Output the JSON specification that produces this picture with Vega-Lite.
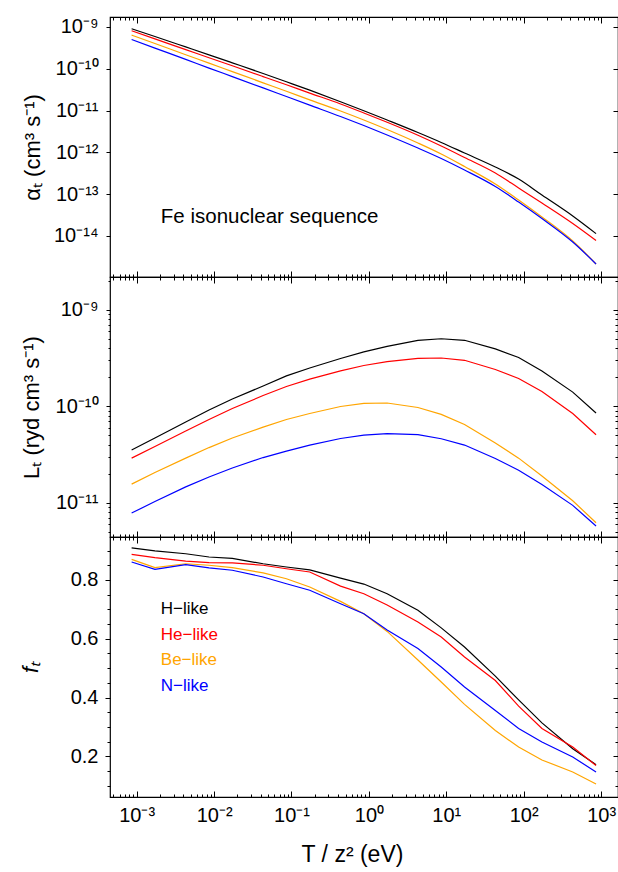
{
  "$schema": "https://vega.github.io/schema/vega-lite/v6.json",
  "padding": {"left": 18, "top": 15, "right": 0, "bottom": 0},
  "background": "white",
  "spacing": 0,
  "bounds": "flush",
  "config": {
    "font": "Liberation Sans",
    "view": {"stroke": "black", "strokeWidth": 1.2},
    "axis": {"domain": false, "grid": false, "tickColor": "black", "labelColor": "black", "titleColor": "black", "labelFont": "Liberation Sans", "titleFont": "Liberation Sans", "labelFontSize": 20, "titleFontSize": 22, "titleFontWeight": "normal", "tickWidth": 1, "labelOverlap": false, "labelFlush": false, "labelBound": false, "minExtent": 0},
    "concat": {"spacing": 0}
  },
  "datasets": {
    "d": [
      {"T":0.00086,"ion":"H-like","alpha":9.1e-10,"L":3.52e-11,"f":0.909},
      {"T":0.00172,"ion":"H-like","alpha":5.93e-10,"L":4.68e-11,"f":0.899},
      {"T":0.0043,"ion":"H-like","alpha":3.34e-10,"L":6.85e-11,"f":0.889},
      {"T":0.0086,"ion":"H-like","alpha":2.16e-10,"L":9.14e-11,"f":0.878},
      {"T":0.0172,"ion":"H-like","alpha":1.39e-10,"L":1.19e-10,"f":0.873},
      {"T":0.043,"ion":"H-like","alpha":7.73e-11,"L":1.62e-10,"f":0.855},
      {"T":0.086,"ion":"H-like","alpha":4.89e-11,"L":2.06e-10,"f":0.844},
      {"T":0.172,"ion":"H-like","alpha":3.08e-11,"L":2.49e-10,"f":0.834},
      {"T":0.43,"ion":"H-like","alpha":1.63e-11,"L":3.12e-10,"f":0.806},
      {"T":0.86,"ion":"H-like","alpha":9.95e-12,"L":3.65e-10,"f":0.786},
      {"T":1.72,"ion":"H-like","alpha":5.96e-12,"L":4.16e-10,"f":0.753},
      {"T":4.3,"ion":"H-like","alpha":2.99e-12,"L":4.80e-10,"f":0.697},
      {"T":8.6,"ion":"H-like","alpha":1.73e-12,"L":5.00e-10,"f":0.637},
      {"T":17.2,"ion":"H-like","alpha":9.68e-13,"L":4.82e-10,"f":0.572},
      {"T":43,"ion":"H-like","alpha":4.48e-13,"L":3.92e-10,"f":0.473},
      {"T":86,"ion":"H-like","alpha":2.31e-13,"L":3.20e-10,"f":0.392},
      {"T":172,"ion":"H-like","alpha":9.57e-14,"L":2.32e-10,"f":0.314},
      {"T":430,"ion":"H-like","alpha":3.01e-14,"L":1.40e-10,"f":0.226},
      {"T":860,"ion":"H-like","alpha":1.14e-14,"L":8.51e-11,"f":0.172},
      {"T":0.00086,"ion":"He-like","alpha":8.11e-10,"L":2.90e-11,"f":0.887},
      {"T":0.00172,"ion":"He-like","alpha":5.19e-10,"L":3.82e-11,"f":0.876},
      {"T":0.0043,"ion":"He-like","alpha":2.88e-10,"L":5.53e-11,"f":0.864},
      {"T":0.0086,"ion":"He-like","alpha":1.84e-10,"L":7.28e-11,"f":0.859},
      {"T":0.0172,"ion":"He-like","alpha":1.18e-10,"L":9.46e-11,"f":0.858},
      {"T":0.043,"ion":"He-like","alpha":6.51e-11,"L":1.29e-10,"f":0.850},
      {"T":0.086,"ion":"He-like","alpha":4.14e-11,"L":1.60e-10,"f":0.838},
      {"T":0.172,"ion":"He-like","alpha":2.62e-11,"L":1.91e-10,"f":0.827},
      {"T":0.43,"ion":"He-like","alpha":1.44e-11,"L":2.32e-10,"f":0.779},
      {"T":0.86,"ion":"He-like","alpha":8.77e-12,"L":2.64e-10,"f":0.753},
      {"T":1.72,"ion":"He-like","alpha":5.25e-12,"L":2.90e-10,"f":0.715},
      {"T":4.3,"ion":"He-like","alpha":2.57e-12,"L":3.13e-10,"f":0.657},
      {"T":8.6,"ion":"He-like","alpha":1.42e-12,"L":3.16e-10,"f":0.606},
      {"T":17.2,"ion":"He-like","alpha":7.55e-13,"L":2.99e-10,"f":0.538},
      {"T":43,"ion":"He-like","alpha":3.21e-13,"L":2.40e-10,"f":0.458},
      {"T":86,"ion":"He-like","alpha":1.41e-13,"L":1.94e-10,"f":0.371},
      {"T":172,"ion":"He-like","alpha":6.15e-14,"L":1.42e-10,"f":0.295},
      {"T":430,"ion":"He-like","alpha":1.99e-14,"L":8.39e-11,"f":0.232},
      {"T":860,"ion":"He-like","alpha":7.8e-15,"L":5.07e-11,"f":0.169},
      {"T":0.00086,"ion":"Be-like","alpha":6.40e-10,"L":1.56e-11,"f":0.870},
      {"T":0.00172,"ion":"Be-like","alpha":4.03e-10,"L":2.06e-11,"f":0.842},
      {"T":0.0043,"ion":"Be-like","alpha":2.17e-10,"L":2.90e-11,"f":0.855},
      {"T":0.0086,"ion":"Be-like","alpha":1.37e-10,"L":3.73e-11,"f":0.850},
      {"T":0.0172,"ion":"Be-like","alpha":8.57e-11,"L":4.68e-11,"f":0.842},
      {"T":0.043,"ion":"Be-like","alpha":4.62e-11,"L":6.08e-11,"f":0.824},
      {"T":0.086,"ion":"Be-like","alpha":2.90e-11,"L":7.28e-11,"f":0.804},
      {"T":0.172,"ion":"Be-like","alpha":1.81e-11,"L":8.40e-11,"f":0.776},
      {"T":0.43,"ion":"Be-like","alpha":9.77e-12,"L":9.93e-11,"f":0.727},
      {"T":0.86,"ion":"Be-like","alpha":5.96e-12,"L":1.07e-10,"f":0.685},
      {"T":1.72,"ion":"Be-like","alpha":3.53e-12,"L":1.08e-10,"f":0.625},
      {"T":4.3,"ion":"Be-like","alpha":1.68e-12,"L":9.70e-11,"f":0.528},
      {"T":8.6,"ion":"Be-like","alpha":9.16e-13,"L":8.24e-11,"f":0.453},
      {"T":17.2,"ion":"Be-like","alpha":4.60e-13,"L":6.46e-11,"f":0.377},
      {"T":43,"ion":"Be-like","alpha":1.75e-13,"L":4.16e-11,"f":0.288},
      {"T":86,"ion":"Be-like","alpha":7.26e-14,"L":2.90e-11,"f":0.232},
      {"T":172,"ion":"Be-like","alpha":2.85e-14,"L":1.89e-11,"f":0.188},
      {"T":430,"ion":"Be-like","alpha":7.59e-15,"L":1.05e-11,"f":0.147},
      {"T":860,"ion":"Be-like","alpha":2.14e-15,"L":6.21e-12,"f":0.106},
      {"T":0.00086,"ion":"N-like","alpha":5.02e-10,"L":7.82e-12,"f":0.861},
      {"T":0.00172,"ion":"N-like","alpha":3.13e-10,"L":1.03e-11,"f":0.836},
      {"T":0.0043,"ion":"N-like","alpha":1.68e-10,"L":1.46e-11,"f":0.852},
      {"T":0.0086,"ion":"N-like","alpha":1.04e-10,"L":1.85e-11,"f":0.841},
      {"T":0.0172,"ion":"N-like","alpha":6.51e-11,"L":2.29e-11,"f":0.833},
      {"T":0.043,"ion":"N-like","alpha":3.49e-11,"L":2.94e-11,"f":0.810},
      {"T":0.086,"ion":"N-like","alpha":2.17e-11,"L":3.43e-11,"f":0.787},
      {"T":0.172,"ion":"N-like","alpha":1.35e-11,"L":3.96e-11,"f":0.765},
      {"T":0.43,"ion":"N-like","alpha":7.23e-12,"L":4.63e-11,"f":0.719},
      {"T":0.86,"ion":"N-like","alpha":4.40e-12,"L":5.03e-11,"f":0.685},
      {"T":1.72,"ion":"N-like","alpha":2.61e-12,"L":5.19e-11,"f":0.630},
      {"T":4.3,"ion":"N-like","alpha":1.27e-12,"L":5.09e-11,"f":0.567},
      {"T":8.6,"ion":"N-like","alpha":7.14e-13,"L":4.60e-11,"f":0.504},
      {"T":17.2,"ion":"N-like","alpha":3.79e-13,"L":3.96e-11,"f":0.436},
      {"T":43,"ion":"N-like","alpha":1.53e-13,"L":2.87e-11,"f":0.356},
      {"T":86,"ion":"N-like","alpha":6.50e-14,"L":2.17e-11,"f":0.295},
      {"T":172,"ion":"N-like","alpha":2.62e-14,"L":1.55e-11,"f":0.249},
      {"T":430,"ion":"N-like","alpha":7.18e-15,"L":9.40e-12,"f":0.198},
      {"T":860,"ion":"N-like","alpha":2.14e-15,"L":5.74e-12,"f":0.147}
    ],
    "note": [{"T":0.00205,"alpha":2.8e-14,"label":"Fe isonuclear sequence"}],
    "leg": [
      {"T":0.00205,"f":0.702,"ion":"H-like","label":"H−like"},
      {"T":0.00205,"f":0.614,"ion":"He-like","label":"He−like"},
      {"T":0.00205,"f":0.527,"ion":"Be-like","label":"Be−like"},
      {"T":0.00205,"f":0.438,"ion":"N-like","label":"N−like"}
    ]
  },
  "vconcat": [
    {
      "width": 508, "height": 260,
      "resolve": {"scale": {"x": "independent", "y": "independent"}},
      "layer": [
        {
          "layer": [
            {
              "data": {"name": "d"},
              "mark": {"type": "line", "strokeWidth": 1.2, "clip": true, "interpolate": "monotone"},
              "encoding": {
                "x": {"field": "T", "type": "quantitative", "scale": {"type": "log", "domain": [0.000452, 1653], "nice": false},
                  "axis": {"orient": "bottom", "values": [0.0005,0.0006,0.0007,0.0008,0.0009,0.001,0.002,0.003,0.004,0.005,0.006,0.007,0.008,0.009,0.01,0.02,0.03,0.04,0.05,0.06,0.07,0.08,0.09,0.1,0.2,0.3,0.4,0.5,0.6,0.7,0.8,0.9,1,2,3,4,5,6,7,8,9,10,20,30,40,50,60,70,80,90,100,200,300,400,500,600,700,800,900,1000], "labels": false, "title": null,
                    "tickSize": {"condition": {"test": "abs(log(datum.value)/LN10 - round(log(datum.value)/LN10)) < 1e-6", "value": -6}, "value": -3}}},
                "y": {"field": "alpha", "type": "quantitative", "scale": {"type": "log", "domain": [1.045e-15, 1.734e-9], "nice": false},
                  "axis": {"orient": "left", "values": [1e-14,1e-13,1e-12,1e-11,1e-10,1e-9], "tickSize": 4, "labelPadding": 8,
                    "labelExpr": "'10' + replace(replace(replace(replace(replace(replace(replace(replace(replace(replace(replace(toString(round(log(datum.value)/LN10)), '-', '⁻'), regexp('0','g'), '⁰'), regexp('1','g'), '¹'), regexp('2','g'), '²'), regexp('3','g'), '³'), regexp('4','g'), '⁴'), regexp('5','g'), '⁵'), regexp('6','g'), '⁶'), regexp('7','g'), '⁷'), regexp('8','g'), '⁸'), regexp('9','g'), '⁹')",
                    "title": "αₜ (cm³ s⁻¹)", "titleX": -78, "titleY": 130, "titleAngle": -90, "titleAlign": "center", "titleBaseline": "middle"}},
                "color": {"field": "ion", "type": "nominal", "scale": {"domain": ["H-like","He-like","Be-like","N-like"], "range": ["#000000","#ff0000","#ffa500","#0000ff"]}, "legend": null}
              }
            },
            {
              "data": {"name": "note"},
              "mark": {"type": "text", "align": "left", "baseline": "middle", "fontSize": 20.5, "color": "black", "font": "Liberation Sans"},
              "encoding": {
                "x": {"field": "T", "type": "quantitative", "scale": {"type": "log", "domain": [0.000452, 1653], "nice": false}},
                "y": {"field": "alpha", "type": "quantitative", "scale": {"type": "log", "domain": [1.045e-15, 1.734e-9], "nice": false}},
                "text": {"field": "label"}
              }
            }
          ]
        },
        {
          "data": {"name": "d"},
          "mark": {"type": "point", "opacity": 0},
          "encoding": {
            "x": {"field": "T", "type": "quantitative", "scale": {"type": "log", "domain": [0.000452, 1653], "nice": false},
              "axis": {"orient": "top", "values": [0.0005,0.0006,0.0007,0.0008,0.0009,0.001,0.002,0.003,0.004,0.005,0.006,0.007,0.008,0.009,0.01,0.02,0.03,0.04,0.05,0.06,0.07,0.08,0.09,0.1,0.2,0.3,0.4,0.5,0.6,0.7,0.8,0.9,1,2,3,4,5,6,7,8,9,10,20,30,40,50,60,70,80,90,100,200,300,400,500,600,700,800,900,1000], "labels": false, "title": null,
                "tickSize": {"condition": {"test": "abs(log(datum.value)/LN10 - round(log(datum.value)/LN10)) < 1e-6", "value": -6}, "value": -3}}},
            "y": {"field": "alpha", "type": "quantitative", "scale": {"type": "log", "domain": [1.045e-15, 1.734e-9], "nice": false},
              "axis": {"orient": "right", "values": [1e-14,1e-13,1e-12,1e-11,1e-10,1e-9], "labels": false, "title": null, "tickSize": -5}}
          }
        }
      ]
    },
    {
      "width": 508, "height": 260,
      "resolve": {"scale": {"x": "independent", "y": "independent"}},
      "layer": [
        {
          "data": {"name": "d"},
          "mark": {"type": "line", "strokeWidth": 1.2, "clip": true},
          "encoding": {
            "x": {"field": "T", "type": "quantitative", "scale": {"type": "log", "domain": [0.000452, 1653], "nice": false},
              "axis": {"orient": "bottom", "values": [0.0005,0.0006,0.0007,0.0008,0.0009,0.001,0.002,0.003,0.004,0.005,0.006,0.007,0.008,0.009,0.01,0.02,0.03,0.04,0.05,0.06,0.07,0.08,0.09,0.1,0.2,0.3,0.4,0.5,0.6,0.7,0.8,0.9,1,2,3,4,5,6,7,8,9,10,20,30,40,50,60,70,80,90,100,200,300,400,500,600,700,800,900,1000], "labels": false, "title": null,
                "tickSize": {"condition": {"test": "abs(log(datum.value)/LN10 - round(log(datum.value)/LN10)) < 1e-6", "value": -6}, "value": -3}}},
            "y": {"field": "L", "type": "quantitative", "scale": {"type": "log", "domain": [4.42e-12, 2.18e-9], "nice": false},
              "axis": {"orient": "left", "values": [5e-12,6e-12,7e-12,8e-12,9e-12,1e-11,2e-11,3e-11,4e-11,5e-11,6e-11,7e-11,8e-11,9e-11,1e-10,2e-10,3e-10,4e-10,5e-10,6e-10,7e-10,8e-10,9e-10,1e-9,2e-9],
                "tickSize": {"condition": {"test": "abs(log(datum.value)/LN10 - round(log(datum.value)/LN10)) < 1e-6", "value": 4}, "value": 2}, "labelPadding": 8,
                "labelExpr": "abs(log(datum.value)/LN10 - round(log(datum.value)/LN10)) < 1e-6 ? '10' + replace(replace(replace(replace(replace(replace(replace(replace(replace(replace(replace(toString(round(log(datum.value)/LN10)), '-', '⁻'), regexp('0','g'), '⁰'), regexp('1','g'), '¹'), regexp('2','g'), '²'), regexp('3','g'), '³'), regexp('4','g'), '⁴'), regexp('5','g'), '⁵'), regexp('6','g'), '⁶'), regexp('7','g'), '⁷'), regexp('8','g'), '⁸'), regexp('9','g'), '⁹') : ''",
                "title": "Lₜ (ryd cm³ s⁻¹)", "titleX": -79, "titleY": 130, "titleAngle": -90, "titleAlign": "center", "titleBaseline": "middle"}},
            "color": {"field": "ion", "type": "nominal", "scale": {"domain": ["H-like","He-like","Be-like","N-like"], "range": ["#000000","#ff0000","#ffa500","#0000ff"]}, "legend": null}
          }
        },
        {
          "data": {"name": "d"},
          "mark": {"type": "point", "opacity": 0},
          "encoding": {
            "x": {"field": "T", "type": "quantitative", "scale": {"type": "log", "domain": [0.000452, 1653], "nice": false},
              "axis": {"orient": "top", "values": [0.0005,0.0006,0.0007,0.0008,0.0009,0.001,0.002,0.003,0.004,0.005,0.006,0.007,0.008,0.009,0.01,0.02,0.03,0.04,0.05,0.06,0.07,0.08,0.09,0.1,0.2,0.3,0.4,0.5,0.6,0.7,0.8,0.9,1,2,3,4,5,6,7,8,9,10,20,30,40,50,60,70,80,90,100,200,300,400,500,600,700,800,900,1000], "labels": false, "title": null,
                "tickSize": {"condition": {"test": "abs(log(datum.value)/LN10 - round(log(datum.value)/LN10)) < 1e-6", "value": -6}, "value": -3}}},
            "y": {"field": "L", "type": "quantitative", "scale": {"type": "log", "domain": [4.42e-12, 2.18e-9], "nice": false},
              "axis": {"orient": "right", "values": [5e-12,6e-12,7e-12,8e-12,9e-12,1e-11,2e-11,3e-11,4e-11,5e-11,6e-11,7e-11,8e-11,9e-11,1e-10,2e-10,3e-10,4e-10,5e-10,6e-10,7e-10,8e-10,9e-10,1e-9,2e-9], "labels": false, "title": null,
                "tickSize": {"condition": {"test": "abs(log(datum.value)/LN10 - round(log(datum.value)/LN10)) < 1e-6", "value": -5}, "value": -3}}}
          }
        }
      ]
    },
    {
      "width": 508, "height": 260,
      "resolve": {"scale": {"x": "independent", "y": "independent"}},
      "layer": [
        {
          "layer": [
            {
              "data": {"name": "d"},
              "mark": {"type": "line", "strokeWidth": 1.2, "clip": true},
              "encoding": {
                "x": {"field": "T", "type": "quantitative", "scale": {"type": "log", "domain": [0.000452, 1653], "nice": false},
                  "axis": {"orient": "bottom", "values": [0.0005,0.0006,0.0007,0.0008,0.0009,0.001,0.002,0.003,0.004,0.005,0.006,0.007,0.008,0.009,0.01,0.02,0.03,0.04,0.05,0.06,0.07,0.08,0.09,0.1,0.2,0.3,0.4,0.5,0.6,0.7,0.8,0.9,1,2,3,4,5,6,7,8,9,10,20,30,40,50,60,70,80,90,100,200,300,400,500,600,700,800,900,1000],
                    "tickSize": {"condition": {"test": "abs(log(datum.value)/LN10 - round(log(datum.value)/LN10)) < 1e-6", "value": -6}, "value": -3}, "labelPadding": 14,
                    "labelExpr": "abs(log(datum.value)/LN10 - round(log(datum.value)/LN10)) < 1e-6 ? '10' + replace(replace(replace(replace(replace(replace(replace(replace(replace(replace(replace(toString(round(log(datum.value)/LN10)), '-', '⁻'), regexp('0','g'), '⁰'), regexp('1','g'), '¹'), regexp('2','g'), '²'), regexp('3','g'), '³'), regexp('4','g'), '⁴'), regexp('5','g'), '⁵'), regexp('6','g'), '⁶'), regexp('7','g'), '⁷'), regexp('8','g'), '⁸'), regexp('9','g'), '⁹') : ''",
                    "title": "T / z² (eV)", "titleFontSize": 23, "titlePadding": 15, "titleX": 242}},
                "y": {"field": "f", "type": "quantitative", "scale": {"domain": [0.062, 0.946], "nice": false, "zero": false},
                  "axis": {"orient": "left", "values": [0.2, 0.4, 0.6, 0.8], "format": ".1f", "tickSize": 5, "labelPadding": 7,
                    "title": "fₜ", "titleFontStyle": "italic", "titleX": -80, "titleY": 130, "titleAngle": -90, "titleAlign": "center", "titleBaseline": "middle"}},
                "color": {"field": "ion", "type": "nominal", "scale": {"domain": ["H-like","He-like","Be-like","N-like"], "range": ["#000000","#ff0000","#ffa500","#0000ff"]}, "legend": null}
              }
            },
            {
              "data": {"name": "leg"},
              "mark": {"type": "text", "align": "left", "baseline": "middle", "fontSize": 17, "font": "Liberation Sans"},
              "encoding": {
                "x": {"field": "T", "type": "quantitative", "scale": {"type": "log", "domain": [0.000452, 1653], "nice": false}},
                "y": {"field": "f", "type": "quantitative", "scale": {"domain": [0.062, 0.946], "nice": false, "zero": false}},
                "text": {"field": "label"},
                "color": {"field": "ion", "type": "nominal"}
              }
            }
          ]
        },
        {
          "data": {"name": "d"},
          "mark": {"type": "point", "opacity": 0},
          "encoding": {
            "x": {"field": "T", "type": "quantitative", "scale": {"type": "log", "domain": [0.000452, 1653], "nice": false},
              "axis": {"orient": "top", "values": [0.0005,0.0006,0.0007,0.0008,0.0009,0.001,0.002,0.003,0.004,0.005,0.006,0.007,0.008,0.009,0.01,0.02,0.03,0.04,0.05,0.06,0.07,0.08,0.09,0.1,0.2,0.3,0.4,0.5,0.6,0.7,0.8,0.9,1,2,3,4,5,6,7,8,9,10,20,30,40,50,60,70,80,90,100,200,300,400,500,600,700,800,900,1000], "labels": false, "title": null,
                "tickSize": {"condition": {"test": "abs(log(datum.value)/LN10 - round(log(datum.value)/LN10)) < 1e-6", "value": -6}, "value": -3}}},
            "y": {"field": "f", "type": "quantitative", "scale": {"domain": [0.062, 0.946], "nice": false, "zero": false},
              "axis": {"orient": "right", "values": [0.1,0.15,0.2,0.25,0.3,0.35,0.4,0.45,0.5,0.55,0.6,0.65,0.7,0.75,0.8,0.85,0.9], "labels": false, "title": null,
                "tickSize": {"condition": {"test": "datum.value == 0.2 || datum.value == 0.4 || datum.value == 0.6 || datum.value == 0.8", "value": -5}, "value": -3}}}
          }
        },
        {
          "data": {"name": "d"},
          "mark": {"type": "point", "opacity": 0},
          "encoding": {
            "x": {"field": "T", "type": "quantitative", "scale": {"type": "log", "domain": [0.000452, 1653], "nice": false}, "axis": null},
            "y": {"field": "f", "type": "quantitative", "scale": {"domain": [0.062, 0.946], "nice": false, "zero": false},
              "axis": {"orient": "left", "values": [0.1,0.15,0.25,0.3,0.35,0.45,0.5,0.55,0.65,0.7,0.75,0.85,0.9], "labels": false, "title": null, "tickSize": 3}}
          }
        }
      ]
    }
  ]
}
